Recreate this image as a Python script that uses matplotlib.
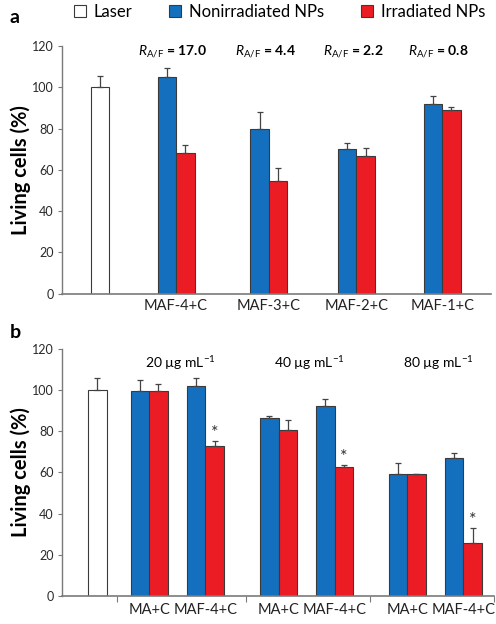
import matplotlib
matplotlib.use("Agg")
import matplotlib.pyplot as plt
from matplotlib.patches import Patch

plt.rcParams["font.family"] = ["Lato", "DejaVu Sans"]
plt.rcParams["mathtext.fontset"] = "custom"
plt.rcParams["mathtext.rm"] = "Lato"
plt.rcParams["mathtext.it"] = "Lato:italic"
plt.rcParams["mathtext.bf"] = "Lato:bold"

BLUE = "#1470bf"
RED = "#ec1c24"
EDGE = "#3a3a3a"
AXIS = "#7a7a7a"

# ---- panel a data ----
a_groups = ["MAF-4+C", "MAF-3+C", "MAF-2+C", "MAF-1+C"]
a_ratio = ["17.0", "4.4", "2.2", "0.8"]
a_laser = 100.0
a_laser_err = 5.6
a_nonirr = [105.0, 80.0, 70.1, 91.8]
a_nonirr_err = [4.5, 8.0, 2.8, 4.1]
a_irr = [68.0, 54.5, 66.8, 88.8]
a_irr_err = [4.2, 6.5, 3.7, 1.5]

# ---- panel b data ----
b_conc = ["20", "40", "80"]
b_pair = ["MA+C", "MAF-4+C"]
b_laser = 100.0
b_laser_err = 5.7
b_nonirr = [99.7, 102.1, 86.7, 92.1, 59.1, 67.1]
b_nonirr_err = [5.2, 3.6, 0.8, 3.5, 5.6, 2.5]
b_irr = [99.7, 72.8, 80.7, 62.6, 59.1, 25.6]
b_irr_err = [3.1, 2.6, 4.6, 0.8, 0.3, 7.4]
b_star = [False, True, False, True, False, True]

fig = plt.figure(figsize=(4.96, 6.24), dpi=100)

W = 0.215


def style_axis(ax):
    for s in ("top", "right"):
        ax.spines[s].set_visible(False)
    ax.spines["left"].set_color(AXIS)
    ax.spines["bottom"].set_color(AXIS)
    ax.spines["left"].set_linewidth(1.0)
    ax.spines["bottom"].set_linewidth(1.2)
    ax.set_ylim(0, 120)
    ax.set_yticks(range(0, 121, 20))
    ax.tick_params(axis="y", labelsize=9, colors=AXIS, labelcolor="#2a2a2a",
                   length=3, width=0.8, pad=3)
    ax.set_ylabel("Living cells (%)", fontsize=14.5, fontweight="bold", labelpad=1)
    ax.set_xlim(0, 5)


def draw_bars(ax, xs, vals, errs, color):
    ax.bar(xs, vals, width=W, color=color, edgecolor=EDGE, linewidth=0.8, zorder=2)
    ax.errorbar(xs, vals, yerr=[[0] * len(errs), errs], fmt="none", ecolor="#444444",
                elinewidth=0.9, capsize=2, capthick=0.9, zorder=3)


# ---------------- panel a ----------------
axa = fig.add_axes([0.125, 0.5296, 0.865, 0.3967])
style_axis(axa)
a_laser_x = 0.44
a_centers = [1.33, 2.41, 3.43, 4.43]
draw_bars(axa, [a_laser_x], [a_laser], [a_laser_err], "white")
draw_bars(axa, [c - W / 2 for c in a_centers], a_nonirr, a_nonirr_err, BLUE)
draw_bars(axa, [c + W / 2 for c in a_centers], a_irr, a_irr_err, RED)
axa.set_xticks(a_centers)
axa.set_xticklabels(a_groups, fontsize=10.5, color="#222222")
axa.tick_params(axis="x", length=0, pad=4)
for c, r in zip(a_centers, a_ratio):
    axa.text(c - 0.04, 117, r"$\mathit{R}_{\mathrm{A/F}}$ = " + r, ha="center",
             va="center", fontsize=10, fontweight="bold")

# ---------------- panel b ----------------
axb = fig.add_axes([0.125, 0.0449, 0.87, 0.3958])
style_axis(axb)
b_laser_x = 0.41
b_centers = [1.34, 2.84, 4.33]
b_off = [-0.33, 0.32]
b_x = [c + o for c in b_centers for o in b_off]
draw_bars(axb, [b_laser_x], [b_laser], [b_laser_err], "white")
draw_bars(axb, [x - W / 2 for x in b_x], b_nonirr, b_nonirr_err, BLUE)
draw_bars(axb, [x + W / 2 for x in b_x], b_irr, b_irr_err, RED)
axb.set_xticks([0.64, 2.13, 3.57, 5.0])
axb.set_xticklabels([])
axb.set_xticks(b_x, minor=True)
axb.set_xticklabels(b_pair * len(b_conc), minor=True, fontsize=10.5, color="#222222")
axb.tick_params(axis="x", which="major", direction="out", length=4, colors=AXIS)
axb.tick_params(axis="x", which="minor", length=0, pad=5)
for x, v, e, s in zip(b_x, b_irr, b_irr_err, b_star):
    if s:
        axb.text(x + W / 2, v + e, "*", ha="center", va="bottom",
                 fontsize=13, color="#333333")
for c, conc in zip(b_centers, b_conc):
    axb.text(c + 0.03, 113, conc + r" µg mL$^{-1}$", ha="center", va="center",
             fontsize=10)

# ---------------- legend + letters ----------------
handles = [
    Patch(facecolor="white", edgecolor=EDGE, linewidth=0.8, label="Laser"),
    Patch(facecolor=BLUE, edgecolor=EDGE, linewidth=0.8, label="Nonirradiated NPs"),
    Patch(facecolor=RED, edgecolor=EDGE, linewidth=0.8, label="Irradiated NPs"),
]
fig.legend(handles=handles, loc="upper left", bbox_to_anchor=(0.149, 0.994),
           ncol=3, frameon=False, fontsize=12, handlelength=0.7, handleheight=0.7,
           handletextpad=0.5, columnspacing=2.2, borderpad=0, borderaxespad=0)
fig.text(0.02, 0.972, "a", fontsize=14, fontweight="bold", va="center")
fig.text(0.02, 0.467, "b", fontsize=14, fontweight="bold", va="center")

fig.savefig("out.png", dpi=100)
